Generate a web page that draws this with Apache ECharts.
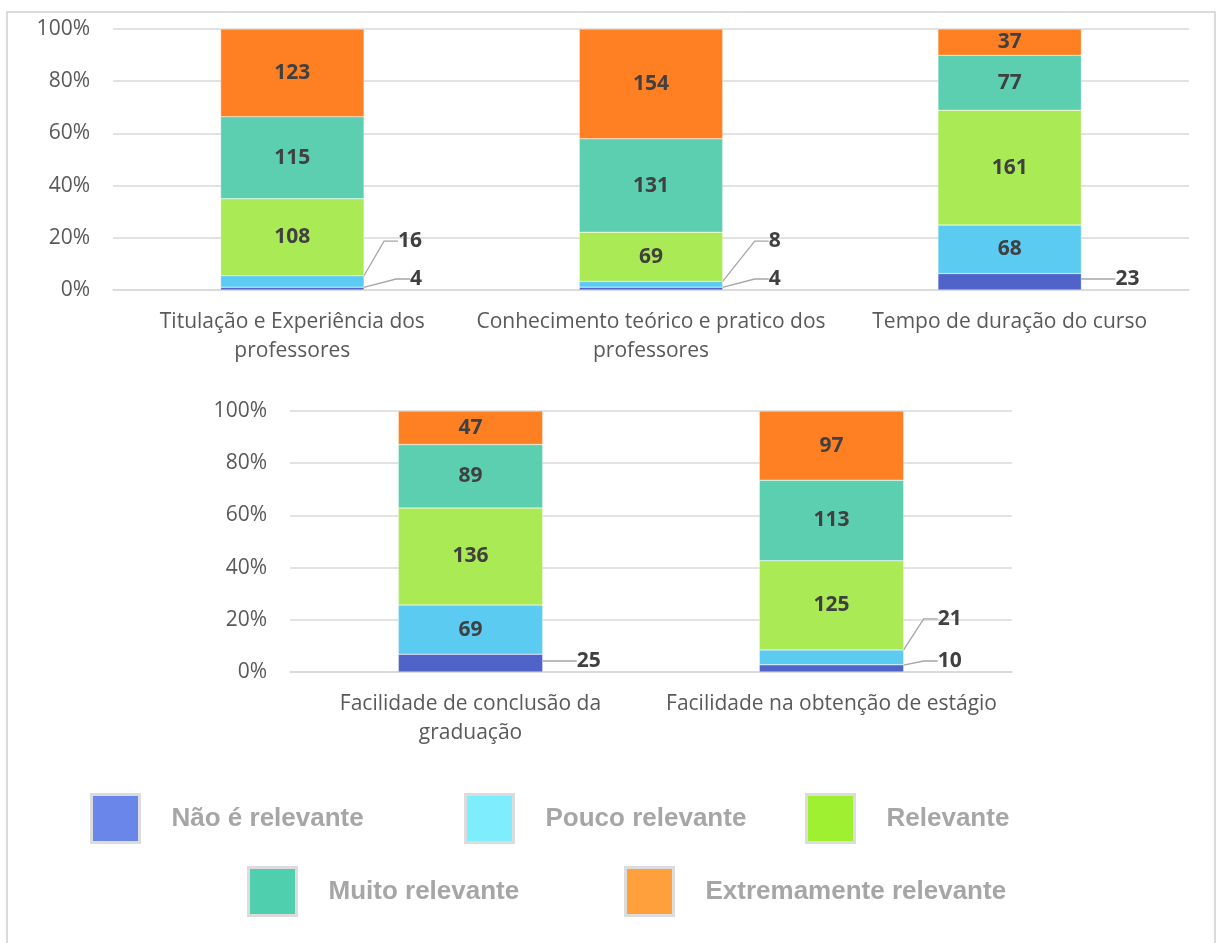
<!DOCTYPE html>
<html>
<head>
<meta charset="utf-8">
<script src="https://cdn.jsdelivr.net/npm/echarts@6/dist/echarts.min.js"></script>
<style>
  html, body { margin: 0; padding: 0; background: #fff; }
  #chart { width: 1219px; height: 943px; }
</style>
</head>
<body>
<div id="chart"></div>
<script>
// niveis de relevancia (legenda)
var levels = ['Não é relevante', 'Pouco relevante', 'Relevante', 'Muito relevante', 'Extremamente relevante'];

// categorias de cada painel
var topCats = ['Titulação e Experiência dos\nprofessores', 'Conhecimento teórico e pratico dos\nprofessores', 'Tempo de duração do curso'];
var bottomCats = ['Facilidade de conclusão da\ngraduação', 'Facilidade na obtenção de estágio'];

// contagens - painel de cima
var naoTop = [4, 4, 23];
var poucoTop = [16, 8, 68];
var relevTop = [108, 69, 161];
var muitoTop = [115, 131, 77];
var extTop = [123, 154, 37];

// contagens - painel de baixo
var naoBottom = [25, 10];
var poucoBottom = [69, 21];
var relevBottom = [136, 125];
var muitoBottom = [89, 113];
var extBottom = [47, 97];

var yTicks = [0, 20, 40, 60, 80, 100];

var barColors = ['#4F63C8', '#5BCBF2', '#A9EA55', '#5BCFB0', '#FF8023'];
var legendColors = ['#6B86EA', '#7EEEFE', '#A0F032', '#4FCFAE', '#FFA03C'];

var myChart = echarts.init(document.getElementById('chart'));

var topSets = [naoTop, poucoTop, relevTop, muitoTop, extTop];
var bottomSets = [naoBottom, poucoBottom, relevBottom, muitoBottom, extBottom];

function totals(sets) {
    var t = [];
    for (var i = 0; i < sets[0].length; i++) {
        var s = 0;
        sets.forEach(function (arr) { s += arr[i]; });
        t.push(s);
    }
    return t;
}

var outside = {}; // seriesIndex -> [bool]
var series = [];

function addSeries(sets, gridIdx) {
    var tot = totals(sets);
    sets.forEach(function (arr, lv) {
        var idx = series.length;
        outside[idx] = [];
        var data = arr.map(function (v, i) {
            var pct = v / tot[i] * 100;
            var out = pct < 7.5;
            outside[idx].push(out);
            return {
                value: pct,
                count: v,
                labelLine: { show: out }
            };
        });
        series.push({
            name: levels[lv],
            type: 'bar',
            stack: 'g' + gridIdx,
            xAxisIndex: gridIdx,
            yAxisIndex: gridIdx,
            barCategoryGap: '60%',
            data: data,
            itemStyle: { color: barColors[lv], borderColor: 'rgba(255,255,255,0.6)', borderWidth: 0.5 },
            label: {
                show: true,
                position: 'inside',
                color: '#404040',
                fontFamily: 'Open Sans',
                fontWeight: 'bold',
                fontSize: 21,
                formatter: function (p) { return p.data.count; }
            },
            labelLine: {
                length2: 14,
                lineStyle: { color: '#A6A6A6', width: 1.3 }
            },
            labelLayout: function (p) {
                if (!outside[p.seriesIndex] || !outside[p.seriesIndex][p.dataIndex]) return {};
                var r = p.rect;
                var bottom = r.y + r.height;
                // rotulos pequenos ficam fora da barra, alinhados a direita
                return {
                    x: r.x + r.width + 58,
                    y: lv === 0 ? bottom - 11 : bottom - 46,
                    align: 'right',
                    verticalAlign: 'middle'
                };
            }
        });
    });
}
addSeries(topSets, 0);
addSeries(bottomSets, 1);

function xAxis(cats, gridIdx) {
    return {
        type: 'category',
        gridIndex: gridIdx,
        data: cats,
        axisTick: { show: false },
        axisLine: { lineStyle: { color: '#D9D9D9', width: 1.5 } },
        axisLabel: {
            color: '#595959',
            fontFamily: 'Open Sans',
            fontSize: 21,
            margin: 18,
            lineHeight: 29,
            interval: 0
        }
    };
}
function yAxis(gridIdx) {
    return {
        type: 'value',
        gridIndex: gridIdx,
        min: yTicks[0],
        max: yTicks[yTicks.length - 1],
        interval: yTicks[1] - yTicks[0],
        axisLine: { show: false },
        axisTick: { show: false },
        splitLine: { lineStyle: { color: '#D9D9D9', width: 1.5 } },
        axisLabel: {
            color: '#595959',
            fontFamily: 'Open Sans',
            fontSize: 21,
            margin: 23,
            formatter: '{value}%'
        }
    };
}

var legendPos = [[85, 788], [459, 788], [800, 788], [242, 861], [619, 861]];
var legends = levels.map(function (name, i) {
    return {
        left: legendPos[i][0],
        top: legendPos[i][1],
        itemWidth: 48,
        itemHeight: 48,
        icon: 'rect',
        selectedMode: false,
        data: [{
            name: name,
            itemStyle: { color: legendColors[i], borderColor: '#DCDCDC', borderWidth: 3 }
        }],
        textStyle: {
            color: '#A6A6A6',
            fontFamily: 'Liberation Sans',
            fontWeight: 'bold',
            fontSize: 26,
            padding: [7, 0, 0, 27]
        }
    };
});

var option = {
    animation: false,
    backgroundColor: '#fff',
    graphic: [{
        type: 'rect',
        shape: { x: 7, y: 12, width: 1208, height: 940 },
        style: { fill: 'none', stroke: '#D0D0D0', lineWidth: 1.5 },
        silent: true
    }],
    grid: [
        { left: 113, right: 30, top: 29, height: 261 },
        { left: 290, right: 207, top: 411, height: 261 }
    ],
    legend: legends,
    xAxis: [xAxis(topCats, 0), xAxis(bottomCats, 1)],
    yAxis: [yAxis(0), yAxis(1)],
    series: series
};

myChart.setOption(option);
window.onresize = function () {
    myChart.resize();
};
</script>
</body>
</html>
